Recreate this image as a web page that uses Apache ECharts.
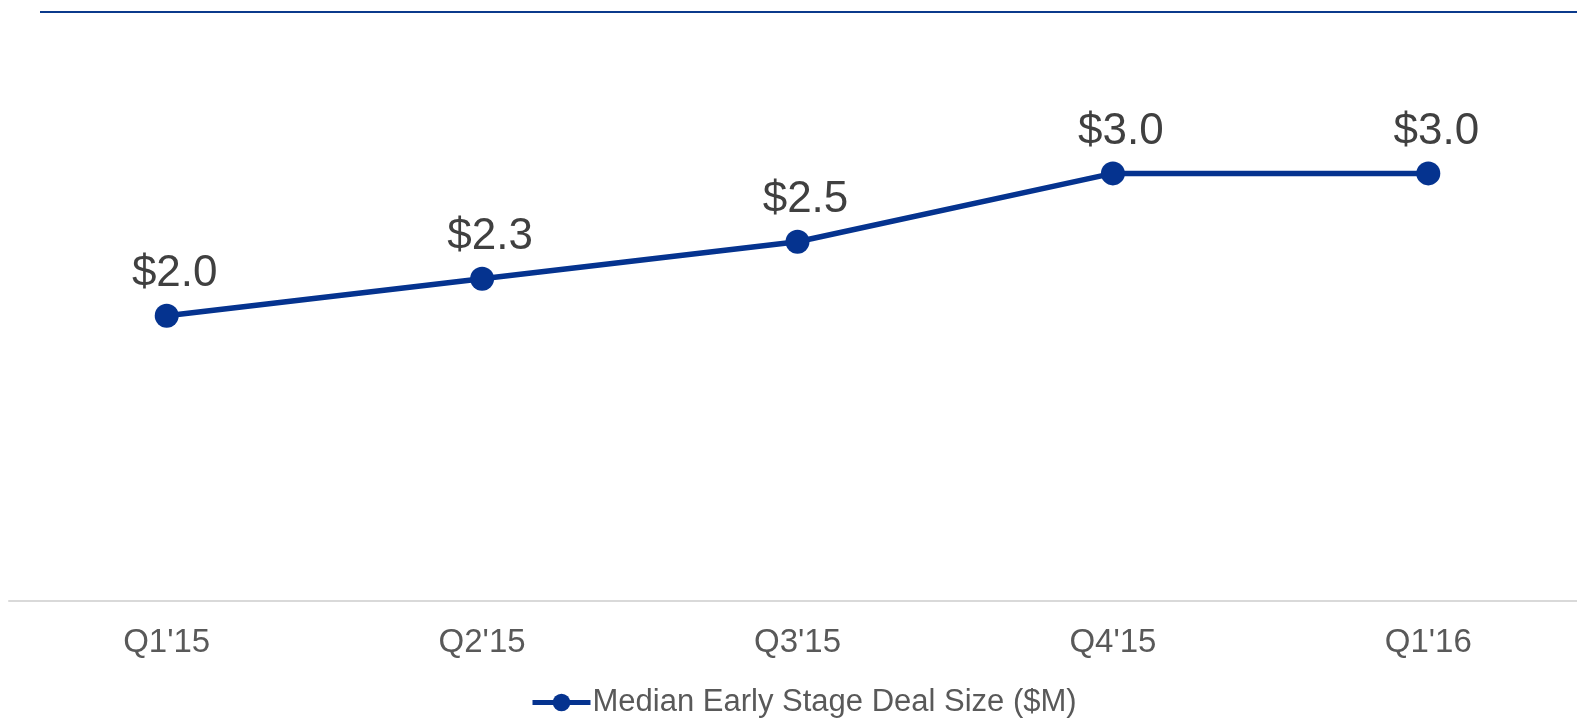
<!DOCTYPE html>
<html>
<head>
<meta charset="utf-8">
<script src="https://cdn.jsdelivr.net/npm/echarts@6/dist/echarts.min.js"></script>
<style>
  html, body { margin: 0; padding: 0; background: #fff; }
  #chart { width: 1577px; height: 719px; }
</style>
</head>
<body>
<div id="chart"></div>
<script>
const quarters = ["Q1'15", "Q2'15", "Q3'15", "Q4'15", "Q1'16"]
const dealSize = [2.0, 2.26, 2.52, 3.0, 3.0]
const seriesName = 'Median Early Stage Deal Size ($M)'

const BLUE = '#05338f'
const chart = echarts.init(document.getElementById('chart'))

const option = {
    animation: false,
    backgroundColor: '#fff',
    textStyle: { fontFamily: 'Liberation Sans, Arial, sans-serif' },
    // plot runs a bit past the right edge, like the original slide
    grid: { left: 9, width: 1577, top: 31, bottom: 118.5, outerBoundsMode: 'none' },
    // thin rule across the top
    graphic: [{
        type: 'line',
        shape: { x1: 40, y1: 12, x2: 1577, y2: 12 },
        style: { stroke: '#0b3a8c', lineWidth: 2 }
    }],
    legend: {
        bottom: -4,
        left: 525,
        itemWidth: 58,
        itemHeight: 22,
        itemGap: 10,
        lineStyle: { width: 5 },
        textStyle: { fontSize: 31, color: '#595959', padding: [0, 0, 0, -3] },
        data: [seriesName]
    },
    xAxis: {
        type: 'category',
        data: quarters,
        boundaryGap: true,
        axisLine: { lineStyle: { color: '#d9d9d9', width: 2 } },
        axisTick: { show: false },
        axisLabel: { fontSize: 33, color: '#595959', margin: 26 }
    },
    yAxis: {
        type: 'value',
        min: 0,
        max: 4,
        show: false,
        splitLine: { show: false }
    },
    series: [{
        name: seriesName,
        type: 'line',
        data: dealSize,
        symbol: 'circle',
        symbolSize: 24,
        lineStyle: { color: BLUE, width: 5.5 },
        itemStyle: { color: BLUE },
        label: {
            show: true,
            position: 'top',
            distance: 8,
            offset: [8, 0],
            fontSize: 44,
            color: '#404040',
            formatter: p => '$' + p.value.toFixed(1)
        }
    }]
}

chart.setOption(option)
</script>
</body>
</html>
